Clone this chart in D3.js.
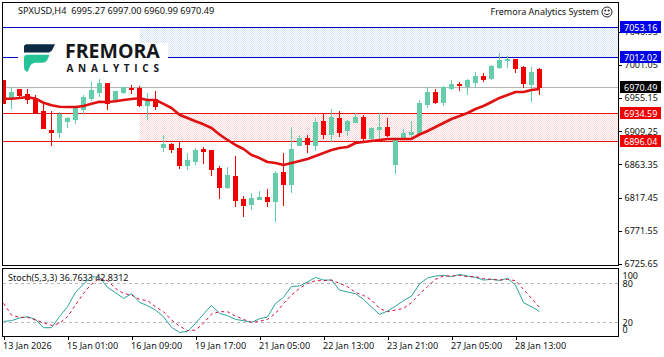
<!DOCTYPE html>
<html>
<head>
<meta charset="utf-8">
<script src="https://cdn.jsdelivr.net/npm/d3@7"></script>
<style>
  html, body { margin: 0; padding: 0; background: #fff; }
  svg { display: block; }
  text { font-family: "Noto Sans", sans-serif; font-size: 9px; fill: #111; }
</style>
</head>
<body>
<div class="chart"></div>
<script>
const opens = [6980.2,6955.3,6967.7,6960.8,6955.3,6937.3,6910.9,6908.2,6923.4,6926.2,6940.0,6955.3,6963.6,6976.0,6952.5,6963.6,6969.1,6969.1,6945.6,6953.9,
  6887.4,6891.6,6886.0,6862.5,6868.0,6884.6,6883.2,6858.3,6832.0,6847.2,6815.4,6808.5,6815.4,6818.2,6812.6,6852.8,6836.2,6890.2,6899.9,6890.2,
  6923.4,6905.4,6927.6,6910.9,6922.0,6929.0,6899.9,6912.3,6915.1,6863.9,6898.5,6905.4,6906.8,6947.0,6963.6,6949.7,6969.1,6974.7,6971.9,6977.4,
  6985.7,6983.0,6998.2,7007.9,7009.3,6998.2,6974.7,6995.27];
const highs = [6980.2,6970.5,6967.7,6967.7,6959.4,6948.3,6937.3,6935.9,6929.0,6942.8,6959.4,6977.4,6981.6,6976.0,6965.0,6970.5,6973.3,6971.9,6962.2,6965.0,
  6904.0,6892.9,6894.3,6879.1,6886.0,6887.4,6883.2,6861.1,6859.7,6874.9,6819.5,6823.7,6826.5,6829.2,6854.2,6879.1,6915.1,6904.0,6904.0,6927.6,
  6933.1,6940.0,6937.3,6924.8,6934.5,6931.7,6915.1,6934.5,6927.6,6901.3,6912.3,6923.4,6952.5,6970.5,6967.7,6971.9,6980.2,6977.4,6981.6,6991.3,
  6989.9,7001.0,7017.6,7013.4,7009.3,6999.6,6998.2,6997.00];
const lows = [6948.3,6941.4,6956.7,6948.3,6934.5,6913.7,6890.2,6901.3,6915.1,6920.6,6934.5,6952.5,6958.0,6940.0,6951.1,6962.2,6962.2,6944.2,6926.2,6940.0,
  6881.9,6880.5,6858.3,6856.9,6863.9,6865.2,6848.6,6816.8,6830.6,6805.7,6791.8,6801.5,6815.4,6805.7,6784.9,6807.1,6825.1,6890.2,6880.5,6883.2,
  6899.9,6895.7,6902.6,6904.0,6922.0,6895.7,6897.1,6898.5,6902.6,6851.4,6898.5,6898.5,6904.0,6942.8,6948.3,6945.6,6967.7,6966.3,6960.8,6970.5,
  6978.8,6981.6,6996.8,6998.2,6991.3,6970.5,6951.1,6960.99];
const closes = [6948.3,6963.6,6959.4,6953.9,6935.9,6913.7,6908.2,6933.1,6927.6,6941.4,6956.7,6966.3,6976.0,6948.3,6965.0,6970.5,6967.7,6945.6,6951.1,6944.2,
  6891.6,6884.6,6862.5,6869.4,6883.2,6881.9,6856.9,6832.0,6848.6,6814.0,6807.1,6816.8,6818.2,6812.6,6851.4,6836.2,6884.6,6899.9,6891.6,6922.0,
  6905.4,6929.0,6908.2,6923.4,6929.0,6899.9,6913.7,6915.1,6904.0,6897.1,6906.8,6908.2,6948.3,6963.6,6949.7,6970.5,6974.7,6973.3,6980.2,6985.7,
  6981.6,6999.6,7007.9,7009.3,6996.8,6976.0,6991.3,6970.49];
const maValues = [6954.3,6954.3,6955.3,6956.7,6954.3,6948.7,6945.1,6943.2,6942.8,6942.8,6944.2,6947.3,6950.1,6949.7,6950.7,6952.5,6953.9,6954.8,6952.5,6952.5,
  6947.0,6941.4,6932.1,6927.6,6923.0,6918.8,6913.7,6904.7,6897.1,6890.2,6884.6,6876.3,6872.1,6866.6,6865.2,6862.5,6865.2,6868.0,6870.8,6874.9,
  6879.1,6883.2,6886.0,6887.4,6892.9,6894.3,6895.7,6897.1,6898.5,6898.5,6898.5,6898.5,6904.7,6909.5,6915.1,6920.6,6926.2,6930.3,6934.5,6940.0,
  6944.2,6949.7,6955.3,6959.4,6963.6,6963.6,6966.3,6967.7];
const stochK = [21.4,22.5,26.6,28.6,24.5,11.7,11.7,28.6,44,66,78.9,90.2,89.1,73.8,65.5,56.8,64,50.7,45.5,38.9,
  28.6,12.2,4.5,6,18.4,32.7,46,33.7,30.2,24.5,22.5,19.9,25.5,28.1,49.1,58.4,75.3,75.8,82,89.1,
  85,85,69.6,66.6,64,55.3,43.5,32.2,37.3,45,53.2,60.4,78.9,88.1,91.2,92.2,90.2,93.7,91.2,89.1,
  85,86.1,84.5,87.6,77.3,50.2,44,36.76];
const stochD = [49.1,31.2,27.6,27.6,23.5,19.4,15.3,18.4,28.6,46.6,64.5,78.9,87.6,84,72.2,64.5,62,55.3,53.2,44,
  36.3,23.5,14.3,7.1,8.1,18.4,32.7,36.3,36.3,29.6,24.5,19.9,21.4,24.5,33.7,49.1,62,72.2,79.9,84,
  84,85,79.9,74.8,66,61.4,54.3,41.4,36.3,38.9,41.4,50.2,63.5,74.8,86,91.2,91.2,92.2,90.2,90.2,
  87.1,86.1,85,86.1,84,70.7,56.8,42.83];
const priceTicks = [7046.95,7001.05,6955.15,6909.25,6863.35,6817.45,6771.55,6725.65];
const stochTicks = [100,80,20,0];
const timeTicks = [0,8,16,24,32,40,48,56,64];
const timeLabels = ['13 Jan 2026','15 Jan 01:00','16 Jan 09:00','19 Jan 17:00','21 Jan 05:00','22 Jan 13:00','23 Jan 21:00','27 Jan 05:00','28 Jan 13:00'];
const blueLevels = [7053.16,7012.02];
const redLevels = [6934.59,6896.04];
const lastPrice = 6970.49;
const zoneStart = 17;

const width = 664, height = 357;
const right = 618;

const svg = d3.select('.chart').append('svg')
  .attr('width', width)
  .attr('height', height);

// checker fills for the two zones
const defs = svg.append('defs');
function checker(id, color) {
  const p = defs.append('pattern').attr('id', id)
    .attr('width', 2).attr('height', 2)
    .attr('patternUnits', 'userSpaceOnUse');
  p.append('rect').attr('width', 2).attr('height', 2).attr('fill', '#fff');
  p.append('rect').attr('width', 1).attr('height', 1).attr('fill', color);
  p.append('rect').attr('x', 1).attr('y', 1).attr('width', 1).attr('height', 1).attr('fill', color);
}
checker('blueZone', '#d6e3f7');
checker('redZone', '#fcd6d6');

const x = d3.scaleLinear().domain([0, opens.length - 1]).range([3.5, 539.5]);
const y = d3.scaleLinear().domain([6725.65, 7012.02]).range([263.8, 57]);
const yStoch = d3.scaleLinear().domain([0, 100]).range([335.3, 270.3]);
const snap = v => Math.round(v) + 0.5;

defs.append('clipPath').attr('id', 'mainClip')
  .append('rect').attr('x', 3).attr('y', 3).attr('width', right - 3).attr('height', 263);

const main = svg.append('g').attr('clip-path', 'url(#mainClip)');

// zones
main.append('rect')
  .attr('x', x(zoneStart)).attr('width', right - x(zoneStart))
  .attr('y', snap(y(blueLevels[0]))).attr('height', snap(y(blueLevels[1])) - snap(y(blueLevels[0])))
  .attr('fill', 'url(#blueZone)');
main.append('rect')
  .attr('x', x(zoneStart)).attr('width', right - x(zoneStart))
  .attr('y', snap(y(redLevels[0]))).attr('height', snap(y(redLevels[1])) - snap(y(redLevels[0])))
  .attr('fill', 'url(#redZone)');

// level lines
const levelLine = (v, color) => main.append('line')
  .attr('x1', 2).attr('x2', right)
  .attr('y1', snap(y(v))).attr('y2', snap(y(v)))
  .attr('stroke', color).attr('stroke-width', 1)
  .style('shape-rendering', 'crispEdges');
levelLine(lastPrice, '#b5b5b5');
blueLevels.forEach(v => levelLine(v, '#0000c0'));
redLevels.forEach(v => levelLine(v, '#e81010'));

// candles
const up = '#66cdaa', down = '#f20000';
const candles = main.selectAll('g.candle')
  .data(opens.map((o, i) => ({ i, o, h: highs[i], l: lows[i], c: closes[i] })))
  .enter()
  .append('g')
  .attr('class', 'candle')
  .style('shape-rendering', 'crispEdges');

candles.append('line')
  .attr('x1', d => x(d.i)).attr('x2', d => x(d.i))
  .attr('y1', d => Math.round(y(d.h))).attr('y2', d => Math.round(y(d.l)) + 1)
  .attr('stroke', d => d.c >= d.o ? up : down);

candles.append('rect')
  .attr('x', d => x(d.i) - 2.5).attr('width', 5)
  .attr('y', d => Math.round(y(Math.max(d.o, d.c))))
  .attr('height', d => Math.max(2, Math.round(y(Math.min(d.o, d.c))) - Math.round(y(Math.max(d.o, d.c))) + 1))
  .attr('fill', d => d.c >= d.o ? up : down);

// moving average
main.append('path')
  .attr('d', d3.line().x((d, i) => x(i)).y(d => y(d))(maValues))
  .attr('fill', 'none')
  .attr('stroke', '#e01010')
  .attr('stroke-width', 2.6)
  .attr('stroke-linejoin', 'round');

// logo sits on a white block over the chart
const logo = svg.append('g');
logo.append('rect').attr('x', 18).attr('y', 43).attr('width', 150).attr('height', 30).attr('fill', '#fff');
logo.append('path')
  .attr('d', 'M24 47 Q24 44.2 27 44.2 L55 44.2 L52.5 49.5 Q51 52.6 47 52.6 L24 52.6 Z')
  .attr('fill', '#0d2a44');
logo.append('path')
  .attr('d', 'M24 58 Q24 54.8 27.5 54.8 L49.5 54.8 L47.5 59.5 Q46 62.8 42 62.8 L36 62.8 Q31.5 62.8 30 66.5 L27.5 72 Q24 71 24 67 Z')
  .attr('fill', '#25c496');
logo.append('text')
  .attr('x', 65).attr('y', 58)
  .style('font-family', '"Open Sans", sans-serif').style('font-weight', 700).style('font-size', '19.5px').style('fill', '#15171c')
  .text('FREMORA');
logo.append('text')
  .attr('x', 66.5).attr('y', 71.5)
  .style('font-family', '"Open Sans", sans-serif').style('font-weight', 700).style('font-size', '10px').style('letter-spacing', '4.7px').style('fill', '#15171c')
  .text('ANALYTICS');

// price axis
const priceAxis = d3.axisRight(y).tickValues(priceTicks).tickFormat(d3.format('.2f')).tickSize(3).tickPadding(3);
const gPrice = svg.append('g').attr('transform', `translate(${right + 0.5}, 0)`).call(priceAxis);
gPrice.select('.domain').remove();
gPrice.selectAll('line').attr('stroke', '#000').style('shape-rendering', 'crispEdges');
gPrice.selectAll('text').attr('fill', '#111').style('font-family', '"Noto Sans", sans-serif').style('font-size', '9px');

// price tags
const tags = [
  ...blueLevels.map(v => ({ v, fill: '#0000e6' })),
  ...redLevels.map(v => ({ v, fill: '#f00000' })),
  { v: lastPrice, fill: '#000' },
];
const tag = svg.selectAll('g.tag').data(tags).enter().append('g').attr('class', 'tag')
  .attr('transform', d => `translate(620, ${snap(y(d.v))})`);
tag.append('rect').attr('y', -6.5).attr('width', 41).attr('height', 12).attr('fill', d => d.fill);
tag.append('text').attr('x', 4).attr('y', 3).style('fill', '#fff').text(d => d3.format('.2f')(d.v));

// stochastic panel
const stochLine = d3.line().x((d, i) => x(i)).y(d => yStoch(d));
[80, 20].forEach(v => svg.append('line')
  .attr('x1', 3).attr('x2', right)
  .attr('y1', snap(yStoch(v))).attr('y2', snap(yStoch(v)))
  .attr('stroke', '#b8b8b8').attr('stroke-dasharray', '3,3')
  .style('shape-rendering', 'crispEdges'));
svg.append('path').attr('d', stochLine(stochK))
  .attr('fill', 'none').attr('stroke', '#2ba39b').attr('stroke-width', 1);
svg.append('path').attr('d', stochLine(stochD))
  .attr('fill', 'none').attr('stroke', '#d0103a').attr('stroke-width', 1).attr('stroke-dasharray', '3,3');

const stochAxis = d3.axisRight(yStoch).tickValues(stochTicks).tickSize(0).tickPadding(4);
const gStoch = svg.append('g').attr('transform', `translate(${right + 0.5}, 0)`).call(stochAxis);
gStoch.select('.domain').remove();
gStoch.selectAll('text')
  .attr('fill', '#111').style('font-family', '"Noto Sans", sans-serif').style('font-size', '9px')
  .attr('dy', d => d === 100 ? 8 : d === 0 ? -3 : 3.5);

// time axis
const timeAxis = d3.axisBottom(x).tickValues(timeTicks)
  .tickFormat((d, i) => timeLabels[i]).tickSize(3).tickPadding(3);
const gTime = svg.append('g').attr('transform', 'translate(0, 336.5)').call(timeAxis);
gTime.select('.domain').remove();
gTime.selectAll('line').attr('stroke', '#000').style('shape-rendering', 'crispEdges');
gTime.selectAll('text').attr('text-anchor', 'start').attr('x', -1).attr('fill', '#111')
  .style('font-family', '"Noto Sans", sans-serif').style('font-size', '9px');

// frames
const frame = (yTop, yBottom) => svg.append('rect')
  .attr('x', 2.5).attr('y', yTop).attr('width', right - 2).attr('height', yBottom - yTop)
  .attr('fill', 'none').attr('stroke', '#000')
  .style('shape-rendering', 'crispEdges');
frame(2.5, 265.5);
frame(268.5, 336.5);

// header texts
svg.append('text').attr('x', 18).attr('y', 14)
  .style('white-space', 'pre').style('font-size', '9.2px')
  .text('SPXUSD,H4  6995.27 6997.00 6960.99 6970.49');
svg.append('text').attr('x', 8).attr('y', 281).text('Stoch(5,3,3) 36.7633 42.8312');
svg.append('text').attr('x', 599).attr('y', 15).attr('text-anchor', 'end').text('Fremora Analytics System');

// smiley
const smile = svg.append('g').attr('transform', 'translate(607, 12)').attr('fill', 'none').attr('stroke', '#222');
smile.append('circle').attr('r', 5);
smile.append('path').attr('d', 'M-2.8 1 Q0 4.2 2.8 1');
smile.append('circle').attr('cx', -1.7).attr('cy', -1.5).attr('r', 0.6).attr('fill', '#222');
smile.append('circle').attr('cx', 1.7).attr('cy', -1.5).attr('r', 0.6).attr('fill', '#222');
</script>
</body>
</html>
